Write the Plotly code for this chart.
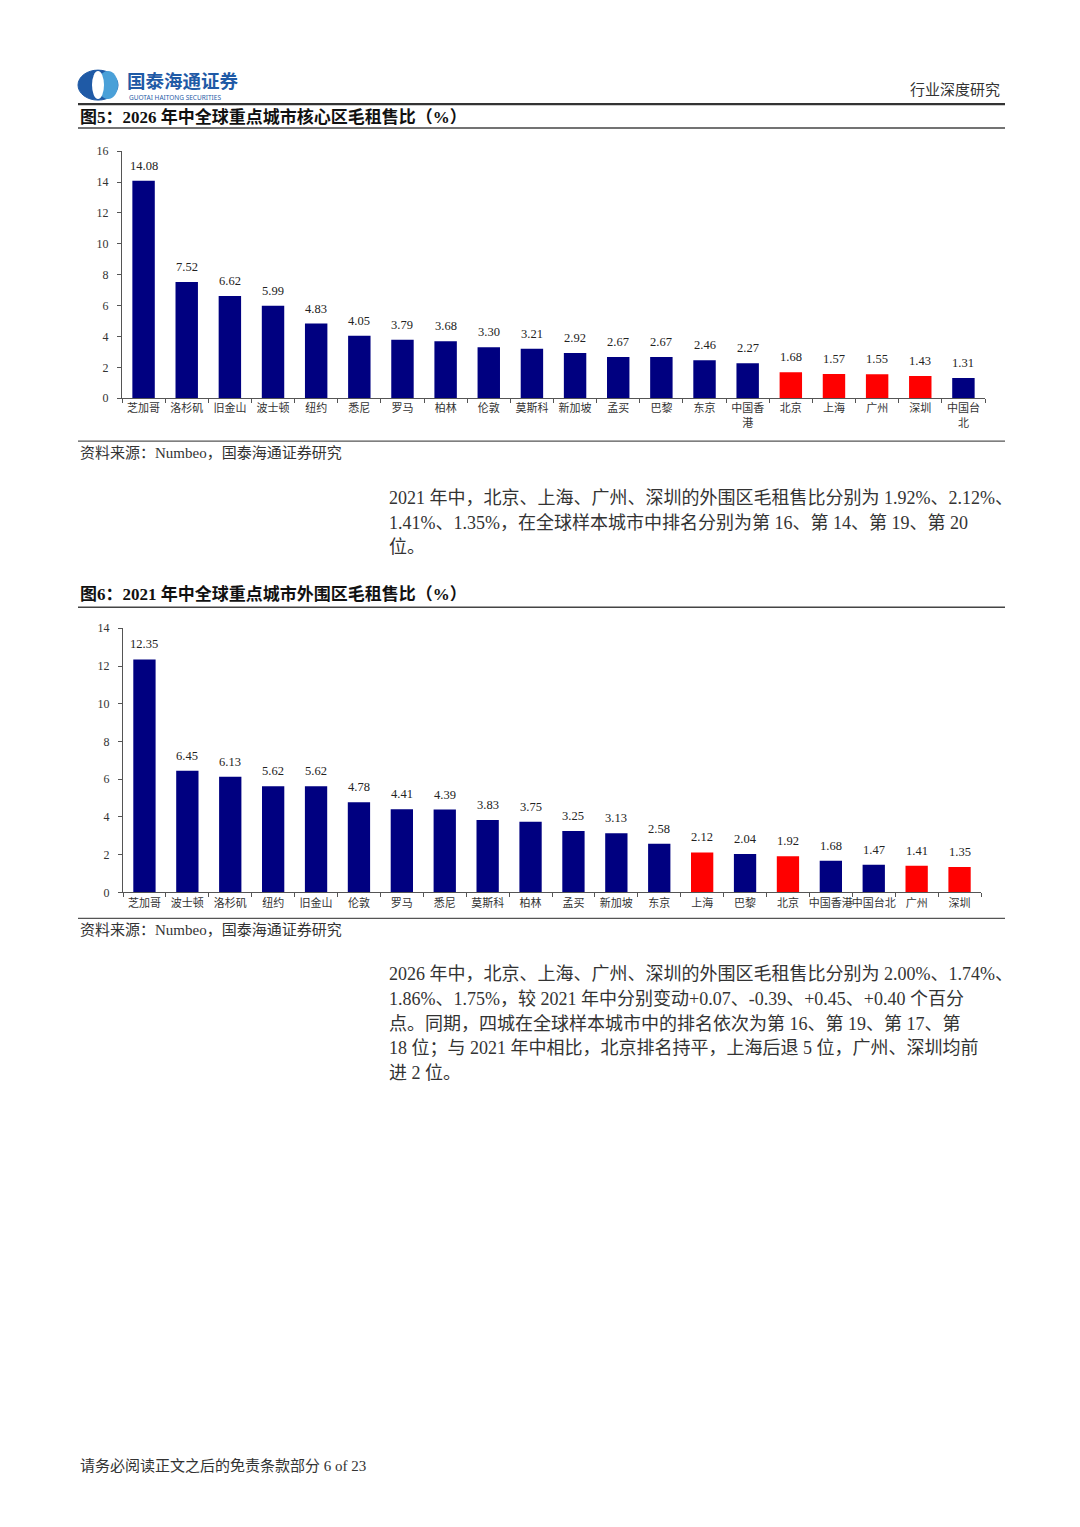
import plotly.graph_objects as go

# 图5 数据（2026 年中，核心区）
cities_core = ["芝加哥", "洛杉矶", "旧金山", "波士顿", "纽约", "悉尼", "罗马", "柏林", "伦敦", "莫斯科",
               "新加坡", "孟买", "巴黎", "东京", "中国香<br>港", "北京", "上海", "广州", "深圳", "中国台<br>北"]
ratio_core = [14.08, 7.52, 6.62, 5.99, 4.83, 4.05, 3.79, 3.68, 3.30, 3.21,
              2.92, 2.67, 2.67, 2.46, 2.27, 1.68, 1.57, 1.55, 1.43, 1.31]

# 图6 数据（2021 年中，外围区）
cities_outer = ["芝加哥", "波士顿", "洛杉矶", "纽约", "旧金山", "伦敦", "罗马", "悉尼", "莫斯科", "柏林",
                "孟买", "新加坡", "东京", "上海", "巴黎", "北京", "中国香港", "中国台北", "广州", "深圳"]
ratio_outer = [12.35, 6.45, 6.13, 5.62, 5.62, 4.78, 4.41, 4.39, 3.83, 3.75,
               3.25, 3.13, 2.58, 2.12, 2.04, 1.92, 1.68, 1.47, 1.41, 1.35]

highlight = ["北京", "上海", "广州", "深圳"]

NAVY = "#000080"
RED = "#ff0000"
SERIF = "Liberation Serif, Noto Sans CJK SC"
# the page body keeps an 8px margin, so the figure is a bit smaller than the window
OFF = 8
W, H = 1080 - 2 * OFF, 1527 - 2 * OFF


# positions below (pixels from top-left);
# small correction for how the page ends up in the screenshot
def px(x):
    return (x - OFF) / W


def py(y):
    y = (y - 7) / 0.9904
    return 1 - (y - OFF) / H


def colors(names):
    return [RED if n in highlight else NAVY for n in names]


fig = go.Figure()

fig.add_trace(go.Bar(
    x=cities_core, y=ratio_core, marker_color=colors(cities_core), marker_line_width=0,
    xaxis="x", yaxis="y",
))
fig.add_trace(go.Bar(
    x=cities_outer, y=ratio_outer, marker_color=colors(cities_outer), marker_line_width=0,
    xaxis="x2", yaxis="y2",
))

# 数据标签
for names, vals, xr, yr in [(cities_core, ratio_core, "x", "y"), (cities_outer, ratio_outer, "x2", "y2")]:
    for n, v in zip(names, vals):
        fig.add_annotation(x=n, y=v, xref=xr, yref=yr, text=f"{v:.2f}", showarrow=False,
                           yanchor="middle", yshift=15, font=dict(family=SERIF, size=12.5, color="#222"))

xax = dict(showline=True, linecolor="#555", linewidth=1, ticks="outside", tickson="boundaries",
           ticklen=4, tickcolor="#555", tickfont=dict(family=SERIF, size=11, color="#333"),
           tickangle=0, showgrid=False, fixedrange=True)
yax = dict(showline=True, linecolor="#555", linewidth=1, ticks="outside", ticklen=4, tickcolor="#555",
           dtick=2, tickfont=dict(family=SERIF, size=12, color="#333"), showgrid=False, zeroline=False,
           ticklabelstandoff=6, fixedrange=True)

fig.update_layout(
    width=W, height=H, margin=dict(l=0, r=0, t=0, b=0),
    paper_bgcolor="white", plot_bgcolor="white", showlegend=False, bargap=0.48,
    xaxis=dict(xax, domain=[px(122), px(985)], anchor="y"),
    yaxis=dict(yax, domain=[py(398), py(151)], range=[0, 16], anchor="x"),
    xaxis2=dict(xax, domain=[px(123), px(981)], anchor="y2"),
    yaxis2=dict(yax, domain=[py(892), py(628)], range=[0, 14], anchor="x2"),
)

# 页面线条
lines = [(104, 2.2, "#333"), (128, 1.5, "#444"), (441, 1.2, "#555"), (607, 1.5, "#444"), (918, 1.2, "#555")]
for y, w, c in lines:
    fig.add_shape(type="line", xref="paper", yref="paper", x0=px(78), x1=px(1005), y0=py(y), y1=py(y),
                  line=dict(color=c, width=w))

# 标志
fig.add_shape(type="circle", xref="paper", yref="paper", x0=px(78), x1=px(118), y0=py(100), y1=py(70),
              fillcolor="#1f5aa6", line=dict(color="#1f5aa6", width=1))
fig.add_shape(type="circle", xref="paper", yref="paper", x0=px(98), x1=px(118), y0=py(99), y1=py(71),
              fillcolor="#4aa0d8", line=dict(width=0))
fig.add_shape(type="circle", xref="paper", yref="paper", x0=px(92), x1=px(104), y0=py(99), y1=py(71),
              fillcolor="white", line=dict(width=0))


def note(x, y, s, size=16, bold=False, color="#222", anchor="left", family=SERIF):
    fig.add_annotation(x=px(x), y=py(y), xref="paper", yref="paper", text=f"<b>{s}</b>" if bold else s,
                       showarrow=False, xanchor=anchor, yanchor="middle",
                       font=dict(family=family, size=size, color=color))


note(125, 80, "国泰海通证券", size=18.5, bold=True, color="#1f5aa6", family="Noto Sans CJK SC")
note(127, 97, "GUOTAI HAITONG SECURITIES", size=6.5, color="#1f5aa6", family="Noto Sans")
note(1002, 90, "行业深度研究", size=15, anchor="right", color="#333")

note(78, 117, "图5：2026 年中全球重点城市核心区毛租售比（%）", size=17, bold=True, color="#111")
note(78, 453, "资料来源：Numbeo，国泰海通证券研究", size=15, color="#333")

para1 = [
    "2021 年中，北京、上海、广州、深圳的外围区毛租售比分别为 1.92%、2.12%、",
    "1.41%、1.35%，在全球样本城市中排名分别为第 16、第 14、第 19、第 20",
    "位。",
]
for i, s in enumerate(para1):
    note(387, 498 + i * 24.5, s, size=18, color="#333")

note(78, 594, "图6：2021 年中全球重点城市外围区毛租售比（%）", size=17, bold=True, color="#111")
note(78, 930, "资料来源：Numbeo，国泰海通证券研究", size=15, color="#333")

para2 = [
    "2026 年中，北京、上海、广州、深圳的外围区毛租售比分别为 2.00%、1.74%、",
    "1.86%、1.75%，较 2021 年中分别变动+0.07、-0.39、+0.45、+0.40 个百分",
    "点。同期，四城在全球样本城市中的排名依次为第 16、第 19、第 17、第",
    "18 位；与 2021 年中相比，北京排名持平，上海后退 5 位，广州、深圳均前",
    "进 2 位。",
]
for i, s in enumerate(para2):
    note(387, 974 + i * 24.6, s, size=18, color="#333")

note(78, 1465, "请务必阅读正文之后的免责条款部分 6 of 23", size=15, color="#333")

fig.write_html("out.html")
